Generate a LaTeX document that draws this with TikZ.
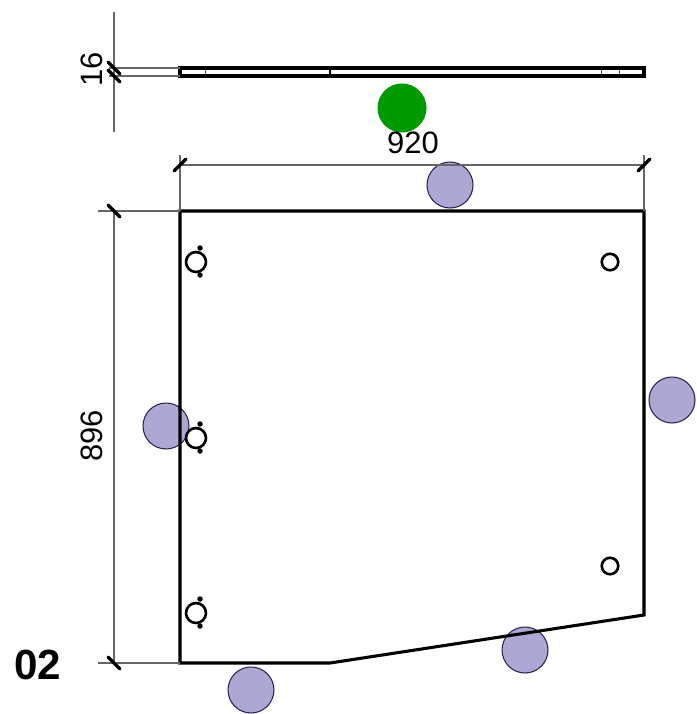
\documentclass[tikz,border=0pt]{standalone}
\usepackage{fontspec}
\setmainfont{Liberation Sans}
\usepackage{xcolor}
\definecolor{markerpurple}{HTML}{ADA7D3}
\definecolor{markergreen}{HTML}{009900}
\definecolor{markeredge}{HTML}{2A2550}

\begin{document}
\begin{tikzpicture}[x=0.02cm, y=-0.02cm,
    outline/.style={line width=1.75pt, line join=miter},
    thin line/.style={line width=0.65pt, black!60},
    tick/.style={line width=1.9pt, line cap=round},
    hidden/.style={line width=0.4pt, black!70, dash pattern=on 2pt off 1.5pt},
    hole/.style={circle, draw, line width=1.5pt, inner sep=0pt, minimum size=0.40cm},
    pin/.style={circle, fill, inner sep=0pt, minimum size=0.11cm},
    marker/.style={circle, draw=markeredge, line width=0.6pt, fill=markerpurple, inner sep=0pt, minimum size=0.92cm},
    label/.style={inner sep=0pt, font=\fontsize{17.6}{20}\selectfont}]
        \useasboundingbox (0, 0) rectangle (697, 714);
		% markers underneath the outline
		\node[marker] (m1) at (450, 185) {};
		\node[marker] (m2) at (166, 426) {};
		\node[marker] (m3) at (672, 400) {};
		\node[marker] (m4) at (525, 650) {};
		\node[marker] (m5) at (251, 690) {};
		\node[marker, draw=markergreen, fill=markergreen, minimum size=0.96cm] (m6) at (402, 108) {};
		% plate, seen from above
		\coordinate (1) at (180, 68);
		\coordinate (2) at (644, 68);
		\coordinate (3) at (644, 76);
		\coordinate (4) at (180, 76);
		\coordinate (5) at (330, 68);
		\coordinate (6) at (330, 76);
		\draw[outline] (1) to (2) to (3) to (4) -- cycle;
		\draw[outline, line width=1.1pt] (5) to (6);
		\coordinate (7) at (205, 70);
		\coordinate (8) at (205, 74);
		\coordinate (9) at (601, 70);
		\coordinate (10) at (601, 74);
		\coordinate (16) at (619, 70);
		\coordinate (17) at (619, 74);
		\draw[hidden] (7) to (8);
		\draw[hidden] (9) to (10);
		\draw[hidden] (16) to (17);
		% plate, front
		\coordinate (11) at (180, 211);
		\coordinate (12) at (644, 211);
		\coordinate (13) at (644, 615);
		\coordinate (14) at (330, 663);
		\coordinate (15) at (180, 663);
		\draw[outline] (11) to (12) to (13) to (14) to (15) -- cycle;
		% dimension lines
		\coordinate (21) at (114, 12);
		\coordinate (22) at (114, 132);
		\coordinate (23) at (109, 68);
		\coordinate (24) at (109, 76);
		\coordinate (25) at (180, 155);
		\coordinate (26) at (644, 155);
		\coordinate (27) at (180, 165);
		\coordinate (28) at (644, 165);
		\coordinate (29) at (98, 211);
		\coordinate (30) at (98, 663);
		\coordinate (31) at (114, 211);
		\coordinate (32) at (114, 663);
		\draw[thin line] (21) to (22);
		\draw[thin line] (23) to (1);
		\draw[thin line] (24) to (4);
		\draw[thin line] (25) to (11);
		\draw[thin line] (26) to (12);
		\draw[thin line] (27) to (28);
		\draw[thin line] (29) to (11);
		\draw[thin line] (30) to (15);
		\draw[thin line] (31) to (32);
		% ticks
		\foreach \x/\y in {114/68, 114/76, 114/211, 114/663}
		    \draw[tick] (\x-6, \y-6) to (\x+6, \y+6);
		\foreach \x/\y in {180/165, 644/165}
		    \draw[tick] (\x-6, \y+6) to (\x+6, \y-6);
		% holes
		\foreach \name/\y in {h1/262, h2/438, h3/613} {
		    \node[hole] (\name) at (196, \y) {};
		    \node[pin] (\name t) at (200, \y-14) {};
		    \node[pin] (\name b) at (200, \y+13) {};
		}
		\node[hole, minimum size=0.33cm] (h4) at (610, 262) {};
		\node[hole, minimum size=0.33cm] (h5) at (610, 566) {};
		% labels
		\node[label] (l1) at (413, 143) {920};
		\node[label, rotate=90] (l2) at (92, 436) {896};
		\node[label, rotate=90] (l3) at (92, 69) {16};
		\node[label, font=\fontsize{24}{26}\selectfont\bfseries] (l4) at (38, 665) {02};
    \end{tikzpicture}
\end{document}
